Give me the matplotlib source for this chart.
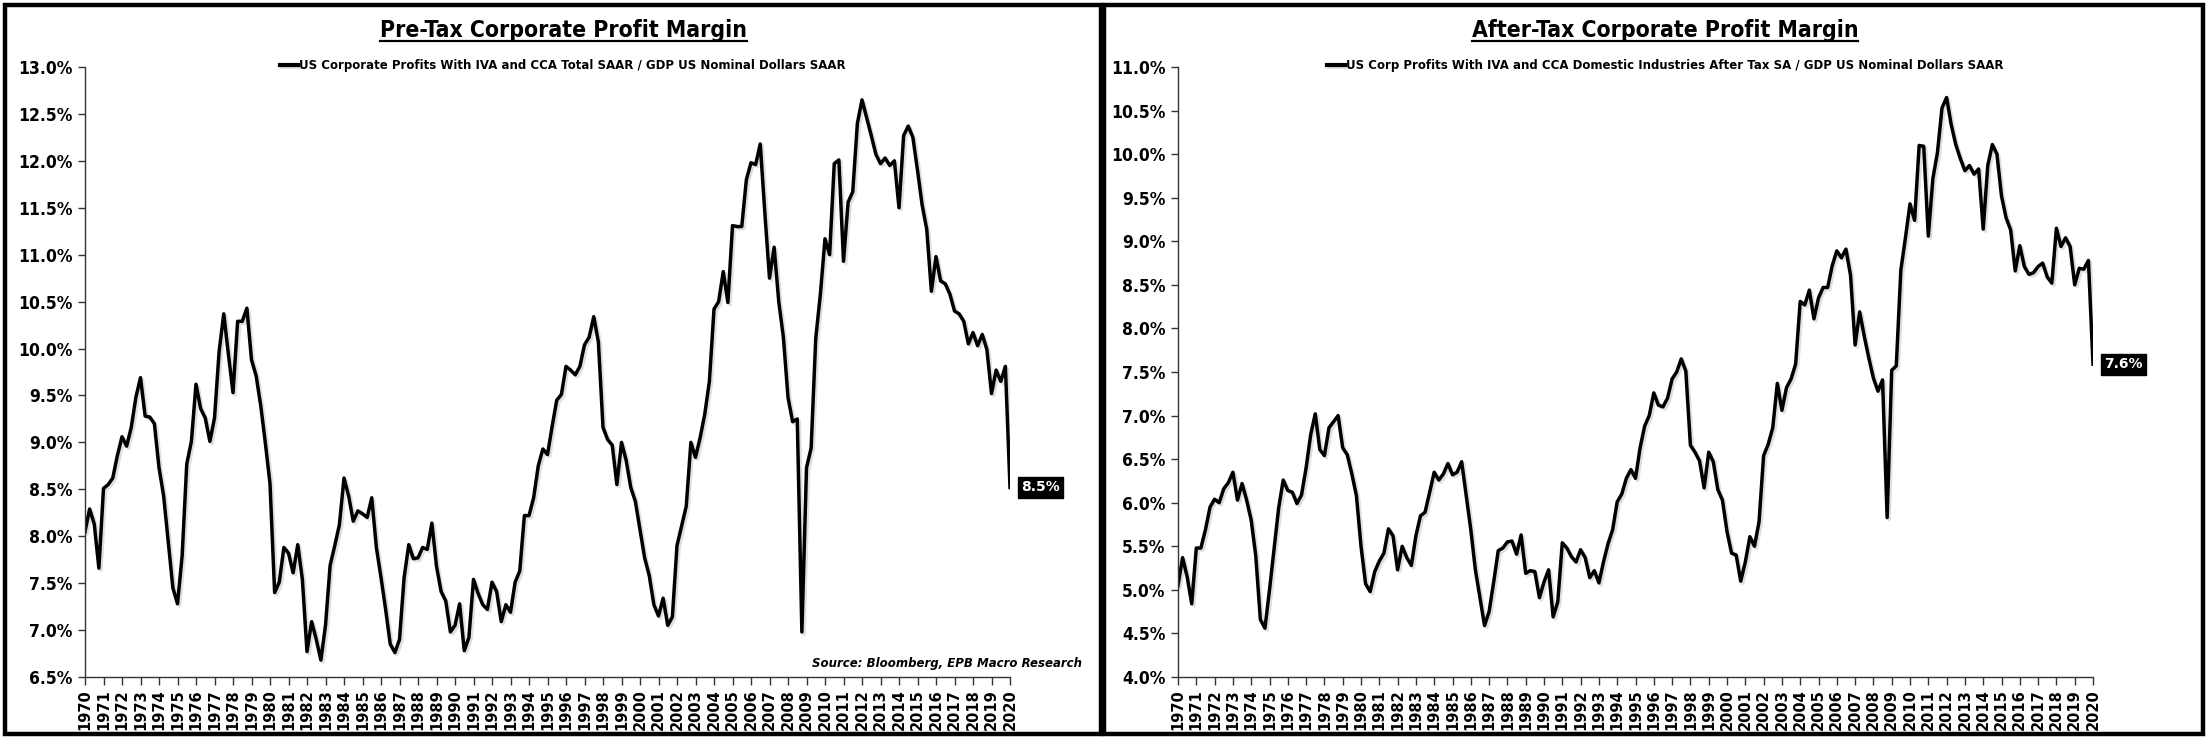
import matplotlib
matplotlib.use("Agg")
import matplotlib.pyplot as plt
import matplotlib.patheffects as pe
from matplotlib.patches import Rectangle
from matplotlib.lines import Line2D
import numpy as np

# quarterly readings, 1970Q1 .. 2020Q1 (percent of GDP)
pre_tax = [
    8.05, 8.29, 8.13, 7.66, 8.51, 8.55, 8.62, 8.86, 9.06, 8.96,
    9.16, 9.48, 9.69, 9.28, 9.27, 9.20, 8.73, 8.43, 7.94, 7.45,
    7.28, 7.79, 8.77, 9.01, 9.62, 9.36, 9.26, 9.01, 9.26, 9.97,
    10.37, 9.94, 9.53, 10.29, 10.29, 10.43, 9.88, 9.71, 9.39, 8.99,
    8.56, 7.40, 7.51, 7.88, 7.82, 7.61, 7.91, 7.54, 6.77, 7.09,
    6.90, 6.68, 7.05, 7.69, 7.90, 8.12, 8.62, 8.43, 8.16, 8.27,
    8.24, 8.20, 8.41, 7.88, 7.56, 7.22, 6.85, 6.76, 6.90, 7.56,
    7.91, 7.76, 7.77, 7.88, 7.86, 8.14, 7.68, 7.41, 7.31, 6.98,
    7.05, 7.28, 6.78, 6.92, 7.54, 7.39, 7.27, 7.22, 7.51, 7.41,
    7.09, 7.27, 7.19, 7.51, 7.63, 8.22, 8.22, 8.41, 8.75, 8.93,
    8.87, 9.17, 9.45, 9.51, 9.81, 9.77, 9.72, 9.81, 10.04, 10.12,
    10.34, 10.07, 9.16, 9.03, 8.97, 8.55, 9.00, 8.81, 8.52, 8.37,
    8.07, 7.77, 7.58, 7.27, 7.15, 7.34, 7.05, 7.14, 7.90, 8.11,
    8.32, 9.00, 8.84, 9.05, 9.30, 9.65, 10.42, 10.50, 10.82, 10.49,
    11.31, 11.30, 11.30, 11.80, 11.98, 11.96, 12.18, 11.44, 10.75, 11.08,
    10.50, 10.12, 9.48, 9.22, 9.25, 6.98, 8.73, 8.94, 10.11, 10.58,
    11.17, 11.00, 11.97, 12.01, 10.93, 11.56, 11.67, 12.40, 12.65, 12.46,
    12.27, 12.07, 11.97, 12.03, 11.95, 12.00, 11.50, 12.27, 12.37, 12.25,
    11.90, 11.53, 11.27, 10.61, 10.98, 10.72, 10.69, 10.58, 10.40, 10.37,
    10.29, 10.05, 10.17, 10.03, 10.15, 9.99, 9.52, 9.77, 9.65, 9.81,
    8.52,
]

after_tax = [
    5.05, 5.37, 5.15, 4.84, 5.48, 5.48, 5.69, 5.95, 6.04, 6.00,
    6.16, 6.23, 6.35, 6.03, 6.22, 6.03, 5.80, 5.39, 4.66, 4.56,
    5.00, 5.47, 5.94, 6.26, 6.14, 6.12, 5.99, 6.09, 6.40, 6.78,
    7.02, 6.61, 6.54, 6.86, 6.93, 7.00, 6.63, 6.55, 6.33, 6.08,
    5.50, 5.07, 4.98, 5.21, 5.33, 5.42, 5.70, 5.62, 5.23, 5.50,
    5.37, 5.28, 5.62, 5.85, 5.89, 6.12, 6.35, 6.26, 6.33, 6.45,
    6.32, 6.35, 6.47, 6.08, 5.69, 5.23, 4.91, 4.59, 4.75, 5.09,
    5.45, 5.48, 5.55, 5.56, 5.41, 5.63, 5.19, 5.22, 5.21, 4.91,
    5.09, 5.23, 4.69, 4.86, 5.54, 5.48, 5.38, 5.32, 5.46, 5.37,
    5.14, 5.22, 5.08, 5.32, 5.53, 5.69, 6.01, 6.10, 6.28, 6.38,
    6.28, 6.63, 6.88, 7.00, 7.26, 7.12, 7.10, 7.20, 7.42, 7.50,
    7.65, 7.51, 6.66, 6.58, 6.48, 6.17, 6.58, 6.47, 6.15, 6.03,
    5.67, 5.42, 5.40, 5.10, 5.32, 5.61, 5.50, 5.78, 6.54, 6.67,
    6.86, 7.37, 7.06, 7.32, 7.42, 7.59, 8.31, 8.27, 8.44, 8.11,
    8.35, 8.47, 8.47, 8.72, 8.89, 8.81, 8.91, 8.61, 7.81, 8.19,
    7.91, 7.66, 7.43, 7.28, 7.41, 5.83, 7.52, 7.57, 8.67, 9.04,
    9.43, 9.24, 10.10, 10.09, 9.06, 9.72, 10.02, 10.53, 10.65, 10.34,
    10.11, 9.95, 9.81, 9.87, 9.77, 9.83, 9.14, 9.87, 10.11, 10.00,
    9.52, 9.27, 9.13, 8.66, 8.95, 8.71, 8.62, 8.64, 8.71, 8.75,
    8.59, 8.52, 9.15, 8.94, 9.04, 8.94, 8.50, 8.69, 8.68, 8.78,
    7.59,
]

years = list(range(1970, 2021))
quarters = 1970 + np.arange(len(pre_tax)) / 4.0

titles = ["Pre-Tax Corporate Profit Margin", "After-Tax Corporate Profit Margin"]
legends = ["US Corporate Profits With IVA and CCA Total SAAR / GDP US Nominal Dollars SAAR",
           "US Corp Profits With IVA and CCA Domestic Industries After Tax SA / GDP US Nominal Dollars SAAR"]
end_labels = ["8.5%", "7.6%"]
source = "Source: Bloomberg, EPB Macro Research"

W, H = 2208, 739
fig = plt.figure(figsize=(W / 100, H / 100), dpi=100)
fig.patch.set_facecolor("white")


def fx(px):
    return px / W


def fy(py):
    return 1 - py / H


panels = [
    dict(x0=85, x1=1010, box=(5, 1101), series=pre_tax, ylim=(6.5, 13.0), cx=563),
    dict(x0=1178, x1=2093, box=(1104, 2203), series=after_tax, ylim=(4.0, 11.0), cx=1665),
]

titles_txt = []
for i, p in enumerate(panels):
    ax = fig.add_axes([fx(p["x0"]), fy(677), fx(p["x1"] - p["x0"]), (677 - 67) / H])
    line, = ax.plot(quarters, p["series"], color="black", lw=2.5, solid_joinstyle="round",
                    label=legends[i])
    line.set_path_effects([pe.SimpleLineShadow(offset=(1.5, -1.5), alpha=0.25, shadow_color="gray"),
                           pe.Normal()])
    ax.set_xlim(1970, 2020)
    ax.set_ylim(*p["ylim"])
    yt = np.arange(p["ylim"][0], p["ylim"][1] + 0.01, 0.5)
    ax.set_yticks(yt)
    ax.set_yticklabels(["%.1f%%" % v for v in yt], fontweight="bold", fontsize=12.5,
                       fontstretch="condensed")
    ax.set_xticks(years)
    ax.set_xticklabels([str(y) for y in years], rotation=90, fontweight="bold", fontsize=10.5)
    for s in ["top", "right"]:
        ax.spines[s].set_visible(False)
    for s in ["left", "bottom"]:
        ax.spines[s].set_color("#333333")
        ax.spines[s].set_linewidth(1.0)
    ax.tick_params(axis="y", length=5, width=1, direction="out", pad=4, color="#333333")
    ax.tick_params(axis="x", length=6, width=1, direction="out", pad=3, color="#333333")

    leg = ax.legend(loc="upper center", bbox_to_anchor=((p["cx"] - p["x0"]) / (p["x1"] - p["x0"]), 1.03),
                    frameon=False, handlelength=1.5, handletextpad=0.1,
                    prop=dict(weight="bold", size=8.5))
    for h in leg.legend_handles:
        h.set_linewidth(3)

    ax.annotate(end_labels[i], xy=(quarters[-1], p["series"][-1]), xytext=(8, 0),
                textcoords="offset points", ha="left", va="center", color="white",
                fontsize=10, fontweight="bold",
                bbox=dict(boxstyle="square,pad=0.25", fc="black", ec="black"))

    t = fig.text(fx(p["cx"]), fy(31), titles[i], ha="center", va="center",
                 fontsize=16.5, fontweight="bold", fontstretch="condensed")
    titles_txt.append(t)

    bx0, bx1 = p["box"]
    fig.add_artist(Rectangle((fx(bx0), fy(734)), fx(bx1 - bx0), (734 - 5) / H,
                             transform=fig.transFigure, fill=False, ec="black", lw=3.2))

fig.text(fx(1082), fy(663), source, ha="right", va="center", fontsize=8.5,
         fontweight="bold", style="italic")

# underline the titles
fig.canvas.draw()
r = fig.canvas.get_renderer()
for t in titles_txt:
    bb = t.get_window_extent(renderer=r).transformed(fig.transFigure.inverted())
    fig.add_artist(Line2D([bb.x0, bb.x1], [bb.y0 + 0.002, bb.y0 + 0.002],
                          transform=fig.transFigure, color="black", lw=1.6))

fig.savefig("out.png", dpi=100, facecolor="white")
